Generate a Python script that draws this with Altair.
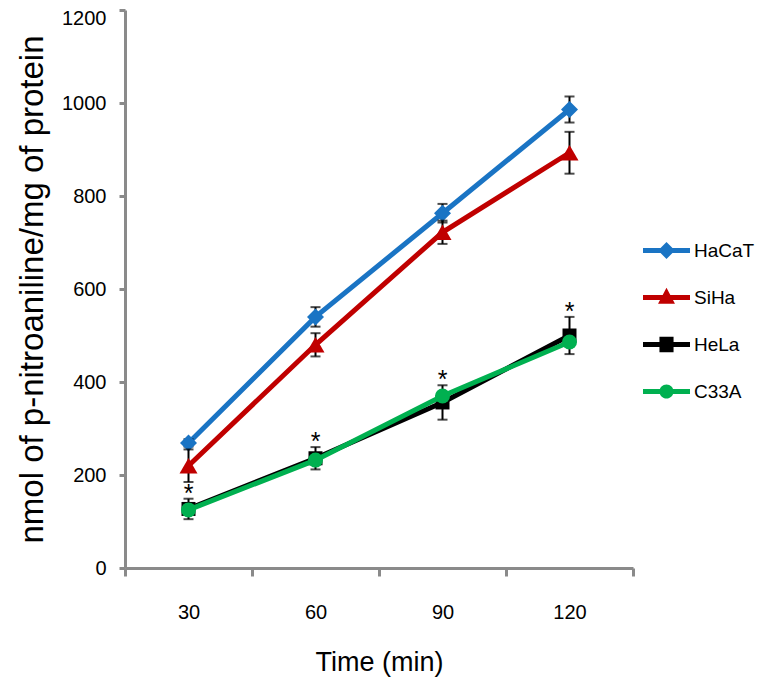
import altair as alt
import pandas as pd

# ---- data ----
times = [30, 60, 90, 120]
series = ["HaCaT", "SiHa", "HeLa", "C33A"]
hacat = [269, 540, 763, 986]
hacat_err = [8, 21, 20, 28]
siha = [220, 480, 722, 893]
siha_err = [35, 25, 25, 45]
hela = [127, 236, 356, 500]
hela_err = [22, 24, 37, 40]
c33a = [125, 232, 370, 486]
star_labels = ["*", "*", "*", "*"]
y_ticks = [0, 200, 400, 600, 800, 1000, 1200]

colors = ["#1A74C4", "#C00000", "#000000", "#00B050"]
shapes = ["diamond", "triangle-up", "square", "circle"]
sizes = [289, 324, 196, 225]

# legend symbols: line with marker (unit coordinates); tiny end points fix row height
bar = "M-1,-0.11H1V0.11H-1Z M0,-1L0.001,-1Z M0,1L0.001,1Z "
legend_paths = [
    bar + "M0,-0.36L0.36,0L0,0.36L-0.36,0Z",
    bar + "M0,-0.42L0.36,0.27L-0.36,0.27Z",
    bar + "M-0.3,-0.33H0.3V0.33H-0.3Z",
    bar + "M-0.3,0A0.3,0.3 0 1,1 0.3,0A0.3,0.3 0 1,1 -0.3,0Z",
]

FONT = "'Liberation Sans', Arial"
AXIS_GREY = "#8A8A8A"

values = {"HaCaT": hacat, "SiHa": siha, "HeLa": hela, "C33A": c33a}
errors = {"HaCaT": hacat_err, "SiHa": siha_err, "HeLa": hela_err}

rows = []
for s in series:
    for i, t in enumerate(times):
        v = values[s][i]
        e = errors.get(s, [0] * 4)[i]
        rows.append({"time": t, "series": s, "value": v, "lo": v - e, "hi": v + e})
df = pd.DataFrame(rows)

x_enc = alt.X(
    "time:O",
    scale=alt.Scale(type="band", domain=times, paddingInner=0, paddingOuter=0),
    bandPosition=0.5,
    axis=alt.Axis(
        title="Time (min)",
        labelAngle=0,
        tickBand="extent",
        domainColor=AXIS_GREY, domainWidth=3,
        tickColor=AXIS_GREY, tickWidth=3, tickSize=8,
        labelFont=FONT, labelFontSize=20, labelColor="black", labelPadding=26,
        titleFont=FONT, titleFontSize=27, titleFontWeight="normal", titleColor="black",
        titlePadding=27,
    ),
)

Y_TITLE = "nmol of p-nitroaniline/mg of protein"


def y_enc(field):
    return alt.Y(
        f"{field}:Q",
        scale=alt.Scale(domain=[0, 1200]),
        axis=alt.Axis(
            title=Y_TITLE,
            values=y_ticks,
            format="d",
            grid=False,
            domainColor=AXIS_GREY, domainWidth=3,
            tickColor=AXIS_GREY, tickWidth=3, tickSize=6,
            labelFont=FONT, labelFontSize=20, labelColor="black", labelPadding=13,
            labelOffset=alt.condition("datum.value == 1200", alt.value(8), alt.value(0)),
            titleFont=FONT, titleFontSize=33, titleFontWeight="normal", titleColor="black",
            titlePadding=12,
        ),
    )


layers = []
for idx, s in enumerate(series):
    base = alt.Chart(df).transform_filter(alt.datum.series == s)
    layers.append(
        base.mark_line(strokeWidth=5, color=colors[idx]).encode(x=x_enc, y=y_enc("value"))
    )
    if s in errors:
        layers.append(
            base.mark_rule(strokeWidth=2, color="black").encode(
                x=x_enc, y=y_enc("lo"), y2="hi:Q"
            )
        )
        layers.append(
            base.mark_tick(orient="horizontal", size=10, thickness=2, color="black").encode(
                x=x_enc, y=y_enc("lo")
            )
        )
        layers.append(
            base.mark_tick(orient="horizontal", size=10, thickness=2, color="black").encode(
                x=x_enc, y=y_enc("hi")
            )
        )
    layers.append(
        base.mark_point(
            filled=True, shape=shapes[idx], size=sizes[idx], color=colors[idx], opacity=1
        ).encode(x=x_enc, y=y_enc("value"))
    )

# significance stars above HeLa error bars
star_df = pd.DataFrame(
    {"time": times, "hi": [v + e for v, e in zip(hela, hela_err)], "star": star_labels}
)
layers.append(
    alt.Chart(star_df)
    .mark_text(font=FONT, fontSize=25, baseline="alphabetic", dy=3, color="black")
    .encode(x=x_enc, y=y_enc("hi"), text="star:N")
)

# legend carrier layer (invisible marks)
legend_df = pd.DataFrame({"series": series})
legend_props = dict(
    orient="none", legendX=518, legendY=217, title=None,
    symbolSize=2209, symbolStrokeWidth=0, symbolOpacity=1,
    labelFont=FONT, labelFontSize=19, labelColor="black", labelOffset=4,
    rowPadding=0, padding=0,
)
layers.append(
    alt.Chart(legend_df)
    .mark_point(filled=True, opacity=0)
    .encode(
        color=alt.Color(
            "series:N",
            scale=alt.Scale(domain=series, range=colors),
            legend=alt.Legend(**legend_props),
        ),
        shape=alt.Shape(
            "series:N",
            scale=alt.Scale(domain=series, range=legend_paths),
            legend=alt.Legend(**legend_props),
        ),
    )
)

chart = (
    alt.layer(*layers)
    .properties(
        width=508,
        height=558,
        autosize=alt.AutoSizeParams(type="none"),
        padding={"left": 117, "top": 2, "right": 123, "bottom": 109},
    )
    .configure_view(stroke=None)
)

chart.save("out.html", embed_options={"renderer": "svg", "actions": False})
